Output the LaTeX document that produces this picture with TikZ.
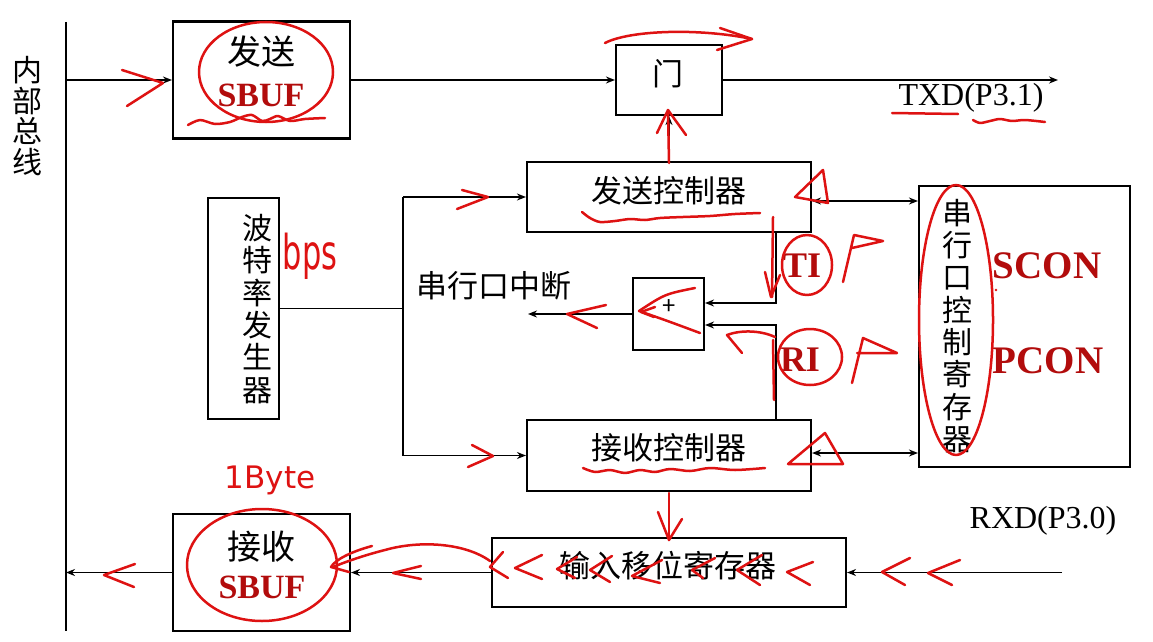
\documentclass[tikz,border=0pt]{standalone}
\usepackage{fontspec}
\usepackage{graphicx}
\setmainfont{Liberation Serif}
\newfontfamily\cjk{Noto Sans CJK SC}
\newfontfamily\handfont{DejaVu Sans}
\usetikzlibrary{arrows.meta}
\definecolor{hred}{RGB}{222,18,18}
\definecolor{dred}{RGB}{178,12,12}
\begin{document}
\begin{tikzpicture}[x=1pt,y=-1pt,
  box/.style={draw, line width=2.1pt, inner sep=0pt},
  conn/.style={line width=1.6pt},
  arr/.style={conn, -{Stealth[length=9pt,width=7pt]}},
  dbl/.style={conn, {Stealth[length=9pt,width=7pt]}-{Stealth[length=9pt,width=7pt]}},
  zh/.style={font=\cjk\fontsize{31}{32}\selectfont, inner sep=0pt},
  zhb/.style={font=\cjk\fontsize{34}{35}\selectfont, inner sep=0pt},
  zhv/.style={font=\cjk\fontsize{30}{32.3}\selectfont, inner sep=0pt, align=center},
  sb/.style={font=\bfseries\fontsize{34}{36}\selectfont, text=dred, inner sep=0pt},
  rg/.style={font=\bfseries\fontsize{39}{40}\selectfont, text=dred, inner sep=0pt},
  pin/.style={font=\fontsize{32}{34}\selectfont, inner sep=0pt},
  hand/.style={draw=hred, line width=2.5pt, line cap=round, line join=round},
  handtxt/.style={font=\handfont\fontsize{32}{34}\selectfont, text=hred, inner sep=0pt}
]
\fill[white] (0,0) rectangle (1153,642);
\useasboundingbox (0,0) rectangle (1153,642);

% ---------- bus ----------
\coordinate (busTop) at (66,22);
\coordinate (busBot) at (66,631);
\draw[line width=2pt] (busTop) -- (busBot);
\node[font=\cjk\fontsize{30}{30.5}\selectfont, inner sep=0pt, align=center] (busLbl) at (27.5,116) {内\\部\\总\\线};

% ---------- boxes ----------
\node[box, minimum width=177pt, minimum height=117pt] (txbuf) at (261.5,80) {};
\node[zhb] (txbufA) at (261,52) {发送};
\node[sb] (txbufB) at (261,95) {SBUF};

\node[box, minimum width=106pt, minimum height=70pt] (gate) at (669,80) {};
\node[zh] (gateT) at (668,74) {门};

\node[box, minimum width=284pt, minimum height=70pt] (txctl) at (669,197) {};
\node[zh] (txctlT) at (669,191) {发送控制器};

\node[box, minimum width=71pt, minimum height=221pt] (baud) at (243.5,308.5) {};
\node[zhv] (baudT) at (257,309) {波\\特\\率\\发\\生\\器};

\node[box, minimum width=71pt, minimum height=72pt] (orb) at (668.5,314) {};
\node[font=\cjk\fontsize{24}{24}\selectfont, inner sep=0pt] (orbT) at (669,307) {+};

\node[box, minimum width=284pt, minimum height=71pt] (rxctl) at (669,455.5) {};
\node[zh] (rxctlT) at (669,448) {接收控制器};

\node[box, minimum width=211pt, minimum height=281pt] (scon) at (1024.5,326.5) {};
\node[zhv] (sconT) at (957,326) {串\\行\\口\\控\\制\\寄\\存\\器};
\node[rg] (sconA) at (1047,266) {SCON};
\node[rg] (sconB) at (1048,361) {PCON};

\node[box, minimum width=354pt, minimum height=69pt] (shift) at (669,572.5) {};
\node[zh] (shiftT) at (668,566) {输入移位寄存器};

\node[box, minimum width=177pt, minimum height=117pt] (rxbuf) at (261.5,572.5) {};
\node[zhb] (rxbufA) at (261,547) {接收};
\node[sb] (rxbufB) at (262,587) {SBUF};

% ---------- labels ----------
\node[zh] (intLbl) at (494,286) {串行口中断};
\node[pin] (txdLbl) at (971,98) {TXD(P3.1)};
\node[pin] (rxdLbl) at (1043,521) {RXD(P3.0)};
\node[rg, font=\bfseries\fontsize{36}{38}\selectfont] (tiLbl) at (802,266) {TI};
\node[rg, font=\bfseries\fontsize{36}{38}\selectfont] (riLbl) at (800,360) {RI};

% ---------- connectors ----------
\coordinate (busA) at (66,80);
\draw[arr] (busA) -- (txbuf.west);
\draw[arr] (txbuf.east) -- (gate.west);
\coordinate (txdEnd) at (1058,80);
\draw[arr] (gate.east) -- (txdEnd);
\draw[arr] (txctl.north) -- (gate.south);

\coordinate (jn) at (403,308.5);
\coordinate (jt) at (403,197);
\coordinate (jb) at (403,455.5);
\draw[conn] (baud.east |- jn) -- (jn);
\draw[conn] (jt) -- (jb);
\draw[arr] (jt) -- (txctl.west);
\draw[arr] (jb) -- (rxctl.west);

\coordinate (tix) at (776,0);
\draw[arr] (txctl.south -| tix) |- ([yshift=11pt]orb.east);
\draw[arr] (rxctl.north -| tix) |- ([yshift=-11pt]orb.east);
\coordinate (intEnd) at (528,314);
\draw[arr] (orb.west) -- (intEnd);

\coordinate (d1) at ([yshift=-4pt]txctl.east);
\draw[dbl] (d1) -- (d1 -| scon.west);
\coordinate (d2) at ([yshift=2.5pt]rxctl.east);
\draw[dbl] (d2) -- (d2 -| scon.west);

\coordinate (rxdStart) at (1062,572.5);
\draw[arr] (rxdStart) -- (shift.east);
\draw[arr] (shift.west) -- (rxbuf.east);
\draw[arr] (rxbuf.west) -- (rxbuf.west -| busTop);

% ---------- red handwritten annotations ----------
% transmit SBUF
\draw[hand] (266,72) ellipse [x radius=67pt, y radius=50pt];
\draw[hand] plot[smooth] coordinates {(188,125) (200,120) (215,124) (230,122) (242,117) (252,115) (262,121) (270,119) (278,116) (290,121) (305,119) (325,118)};
\draw[hand] (122,70) -- (163,83) -- (127,106);
% gate
\draw[hand] (605,43) .. controls (630,30) and (700,28) .. (752,39);
\draw[hand] (720,28) -- (752,39) -- (717,50);
\draw[hand] (669,163) -- (668,110);
\draw[hand] (657,133) -- (668,110) -- (686,135);
% TXD
\draw[hand] (892,113) -- (958,114);
\draw[hand] plot[smooth] coordinates {(973,120) (980,123) (990,121) (1000,119) (1012,121) (1025,120) (1045,122)};
% upper branch
\draw[hand] (462,190) -- (488,197) -- (457,209);
\node[handtxt] (bps) at (310,256) {\scalebox{0.95}[1.5]{bps}};
% transmit controller
\draw[hand] plot[smooth] coordinates {(582,212) (590,218) (600,222) (615,221) (630,219) (645,220) (660,218) (683,217) (710,216) (735,214) (760,213)};
\draw[hand] (795,197) -- (823,170) -- (828,203) -- cycle;
% TI
\draw[hand] (773,217) -- (772,297);
\draw[hand] (765,272) -- (771,297) -- (780,275);
\draw[hand] (807,265) ellipse [x radius=25pt, y radius=30pt];
\draw[hand] (843,282) -- (854,235) -- (883,241) -- (852,248);
% RI
\draw[hand] (810,357) ellipse [x radius=32pt, y radius=28pt];
\draw[hand] (852,383) -- (863,338) -- (897,353) -- (857,353);
\draw[hand] (742,353) -- (727,335) .. controls (740,330) and (760,330) .. (775,337);
\draw[hand] (773,340) -- (774,400);
% OR box
\draw[hand] (695,288) .. controls (665,294) .. (639,311) .. controls (665,320) .. (700,333);
\draw[hand] (655,307) -- (641,312) -- (654,317);
\draw[hand] (606,305) -- (567,314) -- (597,328);
% control register
\draw[hand] (956,320) ellipse [x radius=37pt, y radius=135pt];
\fill[hred] (996,290) circle (1.3pt);
% receive controller
\draw[hand] (472,445) -- (493,456) -- (468,467);
\draw[hand] plot[smooth] coordinates {(583,468) (595,472) (610,470) (625,473) (640,470) (655,472) (670,469) (690,471) (710,468) (735,470) (765,468)};
\draw[hand] (788,464) -- (825,433) -- (843,464) -- cycle;
\draw[hand] (669,493) -- (669,540);
\draw[hand] (658,512) -- (669,540) -- (682,519);
% shift register chevrons
\draw[hand] (503,552) -- (490,567) -- (508,578);
\draw[hand] (542,555) -- (515,568) -- (542,579);
\draw[hand] (577,557) -- (557,569) -- (575,578);
\draw[hand] (612,556) -- (590,570) -- (610,582);
\draw[hand] (662,560) -- (632,576) -- (660,583);
\draw[hand] (715,558) -- (692,570) -- (703,578);
\draw[hand] (762,555) -- (737,570) -- (760,585);
\draw[hand] (813,562) -- (787,572) -- (810,585);
\draw[hand] (910,558) -- (882,572) -- (905,585);
\draw[hand] (960,560) -- (928,573) -- (952,585);
% to receive SBUF
\draw[hand] (490,561) .. controls (465,543) and (420,540) .. (385,550) .. controls (365,555) and (345,562) .. (333,567);
\draw[hand] (372,546) .. controls (350,552) and (335,560) .. (331,567) -- (349,572);
\draw[hand] (421,566) -- (393,573) -- (421,579);
\draw[hand] (135,564) -- (104,575) -- (134,587);
\draw[hand] (262,565) ellipse [x radius=75pt, y radius=56pt];
\node[handtxt, font=\handfont\fontsize{31}{34}\selectfont] (byte) at (270,480) {1Byte};
\end{tikzpicture}
\end{document}
